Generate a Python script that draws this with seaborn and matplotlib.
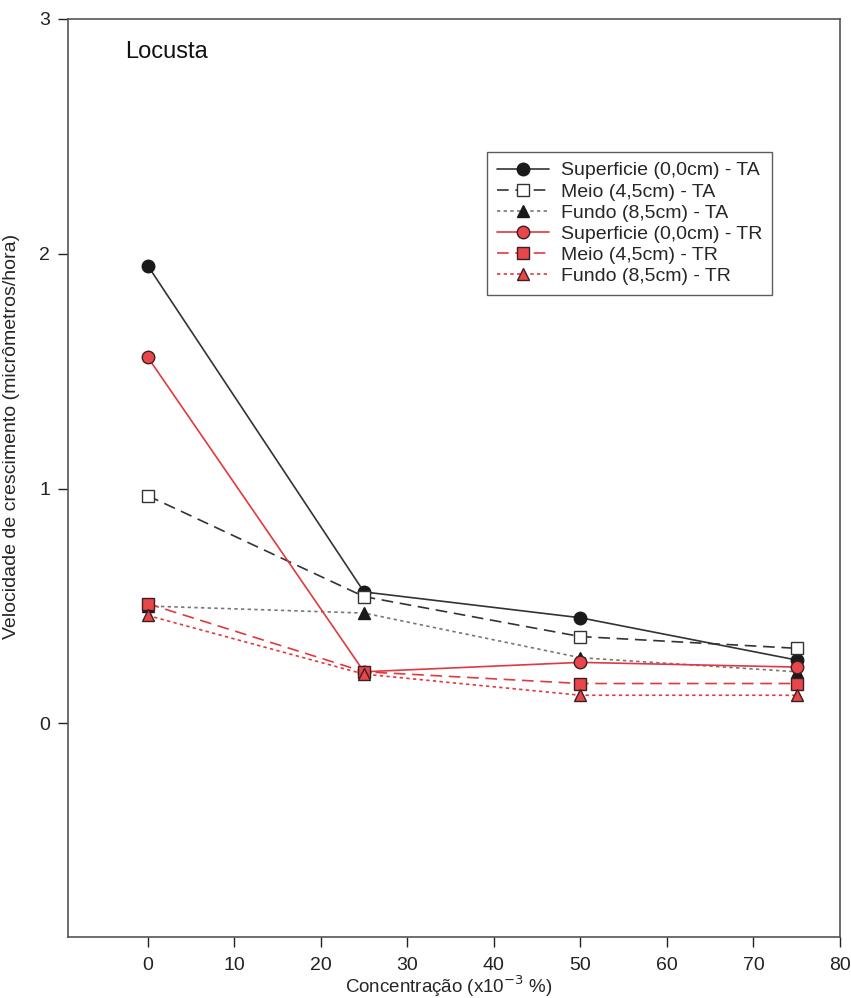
import matplotlib
matplotlib.use("Agg")
import matplotlib.pyplot as plt
import seaborn as sns
import pandas as pd

# Concentration of additive (x10^-3 %)
concentracao = [0, 25, 50, 75]

# Growth rate (micrometres/hour) per position and storage temperature
superficie_ta = [1.95, 0.56, 0.45, 0.27]
meio_ta = [0.97, 0.54, 0.37, 0.32]
fundo_ta = [0.50, 0.47, 0.28, 0.22]
superficie_tr = [1.56, 0.22, 0.26, 0.24]
meio_tr = [0.51, 0.22, 0.17, 0.17]
fundo_tr = [0.46, 0.21, 0.12, 0.12]

nomes = [
    "Superficie (0,0cm) - TA",
    "Meio (4,5cm) - TA",
    "Fundo (8,5cm) - TA",
    "Superficie (0,0cm) - TR",
    "Meio (4,5cm) - TR",
    "Fundo (8,5cm) - TR",
]
valores = [superficie_ta, meio_ta, fundo_ta, superficie_tr, meio_tr, fundo_tr]

x_ticks = [0, 10, 20, 30, 40, 50, 60, 70, 80]
y_ticks = [0, 1, 2, 3]

sns.set_theme(style="ticks")
plt.rcParams["font.family"] = ["Liberation Sans", "DejaVu Sans"]

rows = []
for nome, serie in zip(nomes, valores):
    for c, v in zip(concentracao, serie):
        rows.append({"serie": nome, "conc": c, "vel": v})
df = pd.DataFrame(rows)

estilos = {
    nomes[0]: dict(color="#333333", ls="-", marker="o", mfc="#1a1a1a", mec="#1a1a1a"),
    nomes[1]: dict(color="#333333", ls=(0, (7, 4)), marker="s", mfc="white", mec="#333333"),
    nomes[2]: dict(color="#777777", ls=(0, (2, 2)), marker="^", mfc="#1a1a1a", mec="#1a1a1a"),
    nomes[3]: dict(color="#e0393e", ls="-", marker="o", mfc="#e8464a", mec="#3a2020"),
    nomes[4]: dict(color="#e0393e", ls=(0, (7, 4)), marker="s", mfc="#e8464a", mec="#3a2020"),
    nomes[5]: dict(color="#e0393e", ls=(0, (2, 2)), marker="^", mfc="#e8464a", mec="#3a2020"),
}

fig = plt.figure(figsize=(8.51, 9.98), dpi=100)
ax = fig.add_axes([0.080, 0.061, 0.907, 0.920])

for nome in nomes:
    st = estilos[nome]
    sub = df[df["serie"] == nome]
    sns.lineplot(
        data=sub, x="conc", y="vel", ax=ax, label=nome,
        color=st["color"], linestyle=st["ls"], linewidth=1.2,
        marker=st["marker"], markersize=9, markerfacecolor=st["mfc"],
        markeredgecolor=st["mec"], markeredgewidth=1.0,
    )

ax.set_xlim(-9.2, 80)
ax.set_ylim(-0.91, 3)
ax.set_xticks(x_ticks)
ax.set_yticks(y_ticks)
ax.tick_params(axis="both", direction="out", length=7, width=1, labelsize=14,
               colors="#222222")
ax.tick_params(axis="x", pad=7)
ax.tick_params(axis="y", pad=6)
for sp in ax.spines.values():
    sp.set_visible(True)
    sp.set_color("#555555")
    sp.set_linewidth(1.2)

ax.set_xlabel(r"Concentração (x10$^{-3}$ %)", fontsize=13.5)
ax.xaxis.set_label_coords(0.493, -0.040)
ax.set_ylabel("Velocidade de crescimento (micrômetros/hora)", fontsize=14)
ax.yaxis.set_label_coords(-0.062, 0.545)

ax.text(0.074, 0.964, "Locusta", transform=ax.transAxes, fontsize=17,
        ha="left", va="center", color="#111111")

leg = ax.legend(loc="upper left", bbox_to_anchor=(0.543, 0.855),
                borderaxespad=0, fontsize=14,
                frameon=True, fancybox=False, edgecolor="#333333",
                handlelength=2.7, handletextpad=0.6, borderpad=0.5,
                labelspacing=0.18)
leg.get_frame().set_linewidth(1.0)

fig.savefig("out.png", dpi=100)
